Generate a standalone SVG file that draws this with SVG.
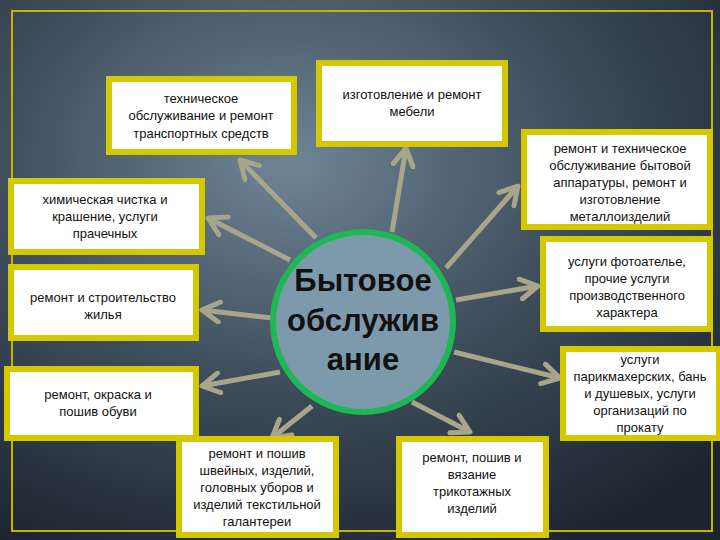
<svg xmlns="http://www.w3.org/2000/svg" width="720" height="540" viewBox="0 0 720 540">
<defs>
<radialGradient id="bg" cx="0.4" cy="0.3" r="0.8">
<stop offset="0" stop-color="#6f8596"/>
<stop offset="0.5" stop-color="#3f4e5c"/>
<stop offset="1" stop-color="#1c2530"/>
</radialGradient>
<marker id="ah" viewBox="0 0 10 10" refX="8" refY="5" markerWidth="5" markerHeight="5" orient="auto" markerUnits="strokeWidth">
<polyline points="1,1 8,5 1,9" fill="none" stroke="#a8a58a" stroke-width="2" stroke-linecap="round" stroke-linejoin="round"/>
</marker>
<style>
.b{fill:#fff;stroke:#d4c800;stroke-width:6}
.t{font-family:"Liberation Sans",Arial,sans-serif;font-size:13px;fill:#111;text-anchor:middle}
.c{stroke:#a8a58a;stroke-width:5;fill:none;marker-end:url(#ah)}
</style>
</defs>
<rect width="720" height="540" fill="url(#bg)"/>
<rect x="12" y="11" width="700" height="520" fill="none" stroke="#c8b400" stroke-width="2"/>
<g id="connectors">
<line class="c" x1="316" y1="238" x2="240" y2="160"/>
<line class="c" x1="392" y1="232" x2="406" y2="148"/>
<line class="c" x1="446" y1="268" x2="518" y2="186"/>
<line class="c" x1="290" y1="260" x2="208" y2="218"/>
<line class="c" x1="272" y1="318" x2="202" y2="310"/>
<line class="c" x1="456" y1="300" x2="538" y2="286"/>
<line class="c" x1="454" y1="352" x2="560" y2="378"/>
<line class="c" x1="280" y1="372" x2="202" y2="386"/>
<line class="c" x1="312" y1="406" x2="272" y2="438"/>
<line class="c" x1="412" y1="402" x2="470" y2="432"/>
</g>
<g id="center">
<circle cx="363" cy="322" r="90" fill="#7c9aab" stroke="#1db854" stroke-width="6"/>
<text font-family="'Liberation Sans',Arial,sans-serif" font-weight="bold" font-size="31" text-anchor="middle" fill="#111"><tspan x="363" y="291">Бытовое</tspan><tspan x="363" y="331">обслужив</tspan><tspan x="363" y="370">ание</tspan></text>
</g>
<g id="n1"><rect class="b" x="109" y="79" width="185" height="73"/><text class="t"><tspan x="201" y="103">техническое</tspan><tspan x="201" y="120">обслуживание и ремонт</tspan><tspan x="201" y="138">транспортных средств</tspan></text></g>
<g id="n2"><rect class="b" x="319" y="63" width="186" height="81"/><text class="t"><tspan x="412" y="99">изготовление и ремонт</tspan><tspan x="412" y="116">мебели</tspan></text></g>
<g id="n3"><rect class="b" x="524" y="132" width="186" height="95"/><text class="t"><tspan x="620" y="153">ремонт и техническое</tspan><tspan x="620" y="170">обслуживание бытовой</tspan><tspan x="620" y="187">аппаратуры, ремонт и</tspan><tspan x="620" y="204">изготовление</tspan><tspan x="620" y="221">металлоизделий</tspan></text></g>
<g id="n4"><rect class="b" x="11" y="181" width="191" height="71"/><text class="t"><tspan x="105" y="204">химическая чистка и</tspan><tspan x="105" y="221">крашение, услуги</tspan><tspan x="105" y="238">прачечных</tspan></text></g>
<g id="n5"><rect class="b" x="11" y="267" width="185" height="71"/><text class="t"><tspan x="103" y="302">ремонт и строительство</tspan><tspan x="103" y="319">жилья</tspan></text></g>
<g id="n6"><rect class="b" x="543" y="239" width="167" height="90"/><text class="t"><tspan x="627" y="266">услуги фотоателье,</tspan><tspan x="627" y="283">прочие услуги</tspan><tspan x="627" y="300">производственного</tspan><tspan x="627" y="317">характера</tspan></text></g>
<g id="n7"><rect class="b" x="563" y="349" width="156" height="89"/><text class="t"><tspan x="640" y="364">услуги</tspan><tspan x="640" y="381">парикмахерских, бань</tspan><tspan x="640" y="398">и душевых, услуги</tspan><tspan x="640" y="415">организаций по</tspan><tspan x="640" y="432">прокату</tspan></text></g>
<g id="n8"><rect class="b" x="7" y="369" width="189" height="69"/><text class="t"><tspan x="98" y="399">ремонт, окраска и</tspan><tspan x="98" y="416">пошив обуви</tspan></text></g>
<g id="n9"><rect class="b" x="179" y="439" width="157" height="96"/><text class="t"><tspan x="257" y="458">ремонт и пошив</tspan><tspan x="257" y="475">швейных, изделий,</tspan><tspan x="257" y="492">головных уборов и</tspan><tspan x="257" y="509">изделий текстильной</tspan><tspan x="257" y="526">галантереи</tspan></text></g>
<g id="n10"><rect class="b" x="399" y="439" width="147" height="96"/><text class="t"><tspan x="472" y="462">ремонт, пошив и</tspan><tspan x="472" y="479">вязание</tspan><tspan x="472" y="496">трикотажных</tspan><tspan x="472" y="513">изделий</tspan></text></g>
</svg>
